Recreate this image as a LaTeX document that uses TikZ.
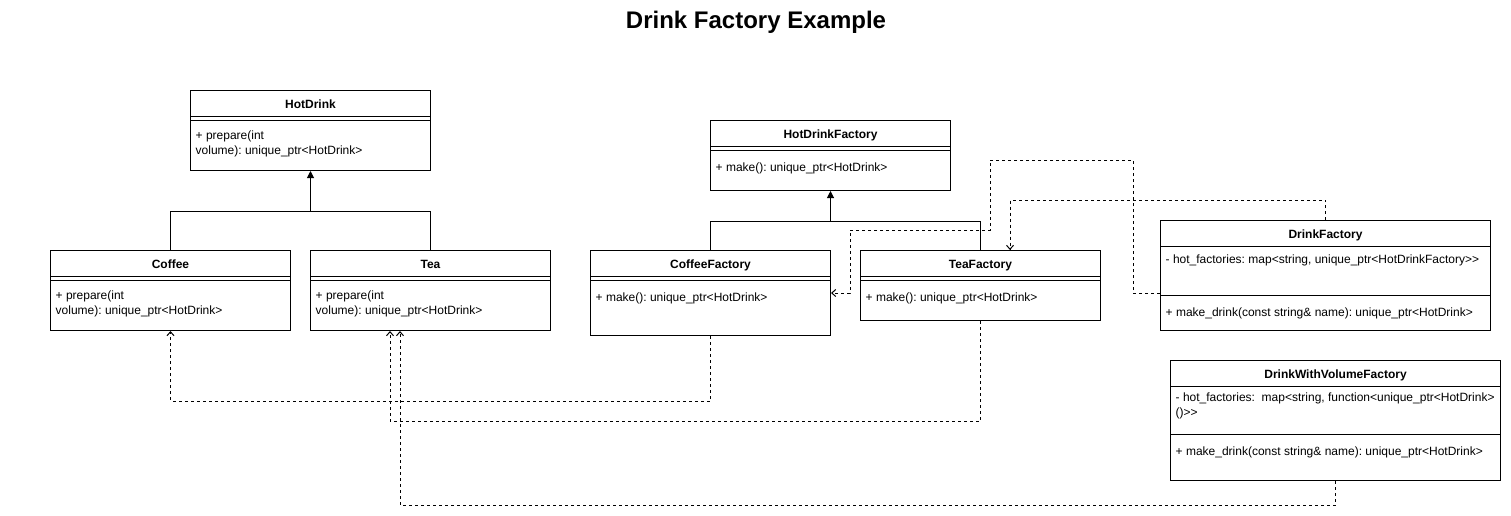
\documentclass[tikz,border=0pt]{standalone}
\usepackage{fontspec}
\setmainfont{Liberation Sans}
\usetikzlibrary{calc, positioning, arrows.meta}
\frenchspacing

\begin{document}
\begin{tikzpicture}[
        x=1pt, y=-1pt,
        classbox/.style={draw, line width=1pt, anchor=north west, minimum width=240pt, inner sep=0pt},
        classname/.style={anchor=base, font=\fontsize{12}{14.5}\selectfont\bfseries},
        member/.style={anchor=north west, inner sep=0pt, align=left, font=\fontsize{12}{14.5}\selectfont\frenchspacing, execute at begin node=\strut},
        divider/.style={line width=1pt},
        inherit/.style={line width=1pt, -{Triangle[length=7pt, width=7pt]}},
        depends/.style={line width=1pt, dash pattern=on 3pt off 3pt, -{Straight Barb[length=4pt, width=7pt]}}
    ]
        \useasboundingbox (0,0) rectangle (1511,515);

        \node[anchor=base, font=\fontsize{24}{28}\selectfont\bfseries] (title) at (756,28) {Drink Factory Example};

        % drinks
        \node[classbox, minimum height=80pt] (hotdrink) at (190,90) {};
        \node[classbox, minimum height=80pt] (coffee) at (50,250) {};
        \node[classbox, minimum height=80pt] (tea) at (310,250) {};

        % factories
        \node[classbox, minimum height=70pt] (hotdrinkfactory) at (710,120) {};
        \node[classbox, minimum height=85pt] (coffeefactory) at (590,250) {};
        \node[classbox, minimum height=70pt] (teafactory) at (860,250) {};
        \node[classbox, minimum width=330pt, minimum height=110pt] (drinkfactory) at (1160,220) {};
        \node[classbox, minimum width=330pt, minimum height=120pt] (drinkvolfactory) at (1170,360) {};

        \node[classname] at ($(hotdrink.north)+(0,18)$) {HotDrink};
        \node[classname] at ($(coffee.north)+(0,18)$) {Coffee};
        \node[classname] at ($(tea.north)+(0,18)$) {Tea};
        \node[classname] at ($(hotdrinkfactory.north)+(0,18)$) {HotDrinkFactory};
        \node[classname] at ($(coffeefactory.north)+(0,18)$) {CoffeeFactory};
        \node[classname] at ($(teafactory.north)+(0,18)$) {TeaFactory};
        \node[classname] at ($(drinkfactory.north)+(0,18)$) {DrinkFactory};
        \node[classname] at ($(drinkvolfactory.north)+(0,18)$) {DrinkWithVolumeFactory};

        \draw[divider] ($(hotdrink.north west)+(0,26)$) -- ($(hotdrink.north east)+(0,26)$);
        \draw[divider] ($(hotdrink.north west)+(0,30)$) -- ($(hotdrink.north east)+(0,30)$);
        \draw[divider] ($(coffee.north west)+(0,26)$) -- ($(coffee.north east)+(0,26)$);
        \draw[divider] ($(coffee.north west)+(0,30)$) -- ($(coffee.north east)+(0,30)$);
        \draw[divider] ($(tea.north west)+(0,26)$) -- ($(tea.north east)+(0,26)$);
        \draw[divider] ($(tea.north west)+(0,30)$) -- ($(tea.north east)+(0,30)$);
        \draw[divider] ($(hotdrinkfactory.north west)+(0,26)$) -- ($(hotdrinkfactory.north east)+(0,26)$);
        \draw[divider] ($(hotdrinkfactory.north west)+(0,30)$) -- ($(hotdrinkfactory.north east)+(0,30)$);
        \draw[divider] ($(coffeefactory.north west)+(0,26)$) -- ($(coffeefactory.north east)+(0,26)$);
        \draw[divider] ($(coffeefactory.north west)+(0,30)$) -- ($(coffeefactory.north east)+(0,30)$);
        \draw[divider] ($(teafactory.north west)+(0,26)$) -- ($(teafactory.north east)+(0,26)$);
        \draw[divider] ($(teafactory.north west)+(0,30)$) -- ($(teafactory.north east)+(0,30)$);
        \draw[divider] ($(drinkfactory.north west)+(0,26)$) -- ($(drinkfactory.north east)+(0,26)$);
        \draw[divider] ($(drinkfactory.north west)+(0,75)$) -- ($(drinkfactory.north east)+(0,75)$);
        \draw[divider] ($(drinkvolfactory.north west)+(0,26)$) -- ($(drinkvolfactory.north east)+(0,26)$);
        \draw[divider] ($(drinkvolfactory.north west)+(0,74)$) -- ($(drinkvolfactory.north east)+(0,74)$);

        \node[member] at ($(hotdrink.north west)+(5.5,41)$) {+ prepare(int\\volume): unique\_ptr<HotDrink>};
        \node[member] at ($(coffee.north west)+(5.5,41)$) {+ prepare(int\\volume): unique\_ptr<HotDrink>};
        \node[member] at ($(tea.north west)+(5.5,41)$) {+ prepare(int\\volume): unique\_ptr<HotDrink>};
        \node[member] at ($(hotdrinkfactory.north west)+(5.5,41)$) {+ make(): unique\_ptr<HotDrink>};
        \node[member] at ($(coffeefactory.north west)+(5.5,41)$) {+ make(): unique\_ptr<HotDrink>};
        \node[member] at ($(teafactory.north west)+(5.5,41)$) {+ make(): unique\_ptr<HotDrink>};
        \node[member] at ($(drinkfactory.north west)+(5.5,33)$) {- hot\_factories: map<string, unique\_ptr<HotDrinkFactory>\kern0pt>};
        \node[member] at ($(drinkfactory.north west)+(5.5,86)$) {+ make\_drink(const string\& name): unique\_ptr<HotDrink>};
        \node[member] at ($(drinkvolfactory.north west)+(5.5,33)$) {- hot\_factories: \ map<string, function<unique\_ptr<HotDrink>\\()>\kern0pt>};
        \node[member] at ($(drinkvolfactory.north west)+(5.5,85)$) {+ make\_drink(const string\& name): unique\_ptr<HotDrink>};

        % inheritance
        \coordinate (drinkjoin) at ($(hotdrink.south)+(0,40)$);
        \coordinate (factoryjoin) at ($(hotdrinkfactory.south)+(0,30)$);
        \draw[inherit] (coffee.north) |- (drinkjoin) -- (hotdrink.south);
        \draw[line width=1pt] (tea.north) |- (drinkjoin);
        \draw[inherit] (coffeefactory.north) |- (factoryjoin) -- (hotdrinkfactory.south);
        \draw[line width=1pt] (teafactory.north) |- (factoryjoin);

        % dependencies
        \coordinate (teain) at ($(tea.south west)+(80,0)$);
        \coordinate (teavolin) at ($(tea.south west)+(90,0)$);
        \coordinate (teafactoryin) at ($(teafactory.north west)+(150,0)$);
        \coordinate (drinkfactoryout) at ($(drinkfactory.north west)+(0,73)$);
        \draw[depends] (coffeefactory.south) -- ++(0,65) -| (coffee.south);
        \draw[depends] (teafactory.south) -- ++(0,100) -| (teain);
        \draw[depends] (drinkvolfactory.south) -- ++(0,24) -| (teavolin);
        \draw[depends] (drinkfactory.north) -- ++(0,-20) -| (teafactoryin);
        \draw[depends] (drinkfactoryout) -- ++(-27,0) |- ++(-143,-133) |- ++(-140,70) |- (coffeefactory.east);

    \end{tikzpicture}
\end{document}
